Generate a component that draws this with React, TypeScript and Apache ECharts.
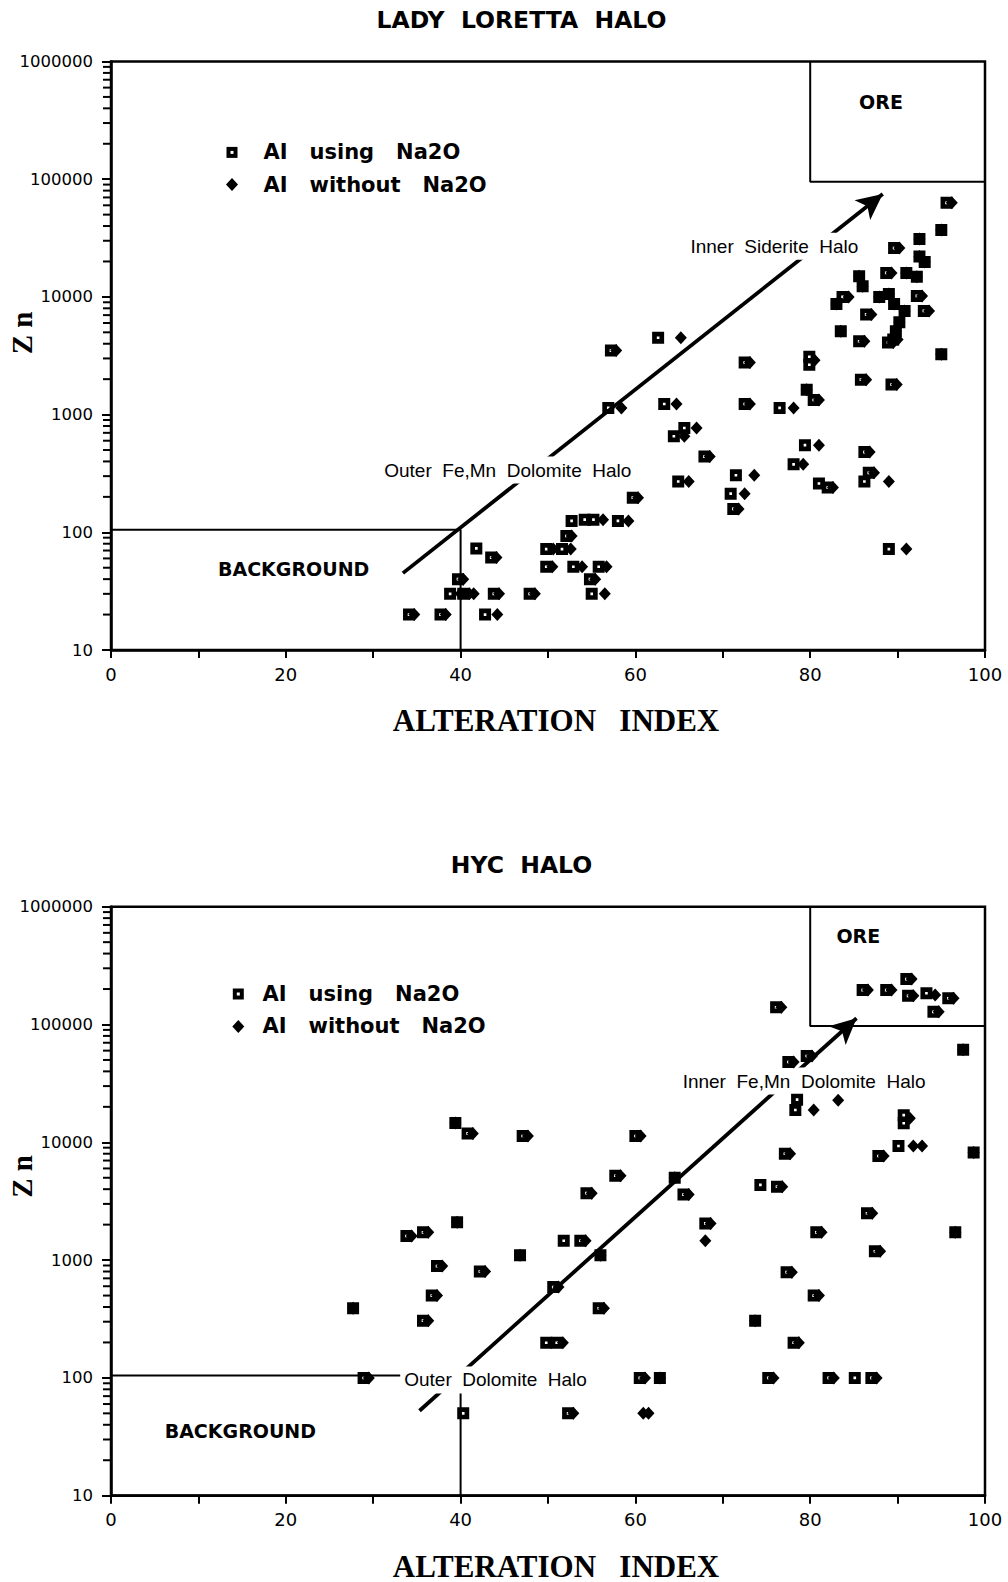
import { useEffect, useRef } from "react";
import * as echarts from "echarts";

// Series names shown in the keys
const USING = "AI   using   Na2O";
const WITHOUT = "AI   without   Na2O";

// Lady Loretta halo: [alteration index, Zn (ppm)]
const LL_USING_NA2O: [number, number][] = [
  [34.1, 20], [37.7, 20], [39.7, 40], [38.8, 30], [40.3, 30], [41.8, 73], [43.5, 61],
  [42.8, 20], [43.8, 30], [47.9, 30], [49.8, 72], [51.6, 72], [49.8, 51], [52.9, 51],
  [55.8, 51], [52.1, 93], [52.7, 125], [54.2, 128], [55.2, 128], [58.0, 125], [54.8, 40],
  [55.0, 30], [59.7, 197], [56.9, 1140], [57.2, 3500], [62.6, 4500], [63.3, 1230],
  [65.6, 770], [64.4, 655], [67.9, 440], [64.9, 270], [72.5, 1230], [72.5, 2770],
  [71.5, 305], [70.9, 213], [71.2, 158], [76.5, 1140], [79.6, 1630], [80.4, 1330],
  [79.9, 3100], [79.9, 2650], [79.4, 550], [78.1, 378], [81.0, 260], [82.0, 240],
  [86.2, 480], [86.7, 320], [86.2, 270], [89.0, 72], [85.8, 1980], [89.3, 1800],
  [95.0, 3250], [95.6, 63000], [95.0, 37000], [92.5, 31000], [89.6, 26000], [92.5, 22000],
  [93.1, 19800], [85.6, 15000], [86.0, 12300], [88.7, 16000], [91.0, 16000], [92.2, 14800],
  [83.7, 10000], [83.0, 8700], [87.9, 10000], [89.0, 10600], [89.6, 8700], [90.8, 7600],
  [92.2, 10200], [93.0, 7600], [86.4, 7100], [90.2, 6100], [89.8, 5100], [89.5, 4350],
  [83.5, 5100], [85.6, 4200], [88.9, 4100],
];
const LL_WITHOUT_NA2O: [number, number][] = [
  [34.7, 20], [38.3, 20], [40.3, 40], [40.0, 30], [41.0, 30], [41.5, 30], [44.1, 61],
  [44.2, 20], [44.4, 30], [48.5, 30], [50.6, 72], [52.6, 72], [50.5, 51], [53.9, 51],
  [56.7, 51], [52.7, 93], [56.3, 128], [59.2, 125], [55.4, 40], [56.5, 30], [60.3, 197],
  [58.4, 1140], [57.8, 3500], [65.2, 4500], [64.7, 1230], [67.0, 770], [65.6, 655],
  [68.5, 440], [66.1, 270], [73.1, 1230], [73.1, 2770], [73.6, 305], [72.5, 213],
  [71.8, 158], [78.1, 1140], [79.6, 1630], [81.0, 1330], [80.5, 2900], [81.0, 550],
  [79.2, 378], [82.6, 240], [86.8, 480], [87.3, 320], [89.0, 270], [91.0, 72], [86.4, 1980],
  [89.9, 1800], [95.0, 3250], [96.2, 63000], [95.0, 37000], [92.5, 31000], [90.2, 26000],
  [92.5, 22000], [93.1, 19800], [85.6, 15000], [86.0, 12300], [89.3, 16000], [91.0, 16000],
  [92.2, 14800], [84.4, 10000], [83.0, 8700], [87.9, 10000], [89.0, 10600], [89.6, 8700],
  [90.8, 7600], [92.8, 10200], [93.6, 7600], [87.0, 7100], [90.2, 6100], [89.8, 5100],
  [90.0, 4350], [83.5, 5100], [86.2, 4200], [89.5, 4100],
];

// HYC halo: [alteration index, Zn (ppm)]
const HYC_USING_NA2O: [number, number][] = [
  [86.0, 196000], [88.7, 196000], [91.0, 243000], [91.2, 175000], [93.3, 184000],
  [95.8, 167000], [94.1, 128000], [76.1, 140000], [77.5, 48000], [79.6, 54000],
  [97.5, 61000], [78.5, 23000], [78.3, 18800], [90.7, 17000], [90.7, 14500], [90.1, 9300],
  [87.8, 7650], [98.7, 8200], [60.0, 11300], [77.1, 8000], [57.7, 5200], [64.5, 5000],
  [54.4, 3700], [65.5, 3600], [74.3, 4350], [76.2, 4200], [51.8, 1460], [53.7, 1460],
  [56.0, 1100], [68.0, 2050], [86.5, 2500], [80.7, 1720], [87.4, 1190], [96.6, 1720],
  [77.3, 790], [80.4, 500], [73.7, 306], [78.1, 199], [50.6, 590], [55.8, 390], [49.8, 199],
  [51.0, 199], [60.5, 100], [62.8, 100], [75.2, 100], [82.1, 100], [85.1, 100], [87.0, 100],
  [52.3, 50], [39.4, 14600], [40.8, 11900], [47.1, 11300], [39.6, 2100], [33.8, 1600],
  [35.7, 1720], [46.8, 1100], [37.3, 890], [42.2, 800], [36.7, 500], [27.7, 390],
  [35.7, 306], [28.9, 100], [40.3, 50],
];
const HYC_WITHOUT_NA2O: [number, number][] = [
  [86.6, 196000], [89.3, 196000], [91.6, 243000], [91.8, 175000], [94.3, 178000],
  [96.4, 167000], [94.7, 128000], [76.7, 140000], [78.1, 48000], [80.2, 54000],
  [97.5, 61000], [80.4, 18800], [83.2, 22800], [91.4, 16000], [91.8, 9300], [92.8, 9300],
  [88.4, 7650], [98.7, 8200], [60.6, 11300], [77.7, 8000], [58.3, 5200], [64.5, 5000],
  [55.0, 3700], [66.1, 3600], [76.8, 4200], [54.3, 1460], [56.0, 1100], [68.6, 2050],
  [68.0, 1460], [87.1, 2500], [81.3, 1720], [88.0, 1190], [96.6, 1720], [77.9, 790],
  [81.0, 500], [73.7, 306], [78.7, 199], [51.2, 590], [56.4, 390], [51.7, 199], [61.1, 100],
  [62.8, 100], [75.8, 100], [82.7, 100], [87.6, 100], [52.9, 50], [60.9, 50], [61.5, 50],
  [39.4, 14600], [41.4, 11900], [47.7, 11300], [39.6, 2100], [34.4, 1600], [36.3, 1720],
  [46.8, 1100], [37.9, 890], [42.8, 800], [37.3, 500], [27.7, 390], [36.3, 306], [29.5, 100],
];

// Field outlines and trend arrows, in [alteration index, Zn] space
const LL_ORE_FIELD: [number, number][] = [[80, 1000000], [80, 95000], [100, 95000]];
const LL_BACKGROUND_FIELD: [number, number][] = [[0, 105], [40, 105], [40, 10]];
const LL_TREND: [number, number][] = [[33.4, 45], [88.3, 74800]];
const HYC_ORE_FIELD: [number, number][] = [[80, 1000000], [80, 97000], [100, 97000]];
const HYC_BACKGROUND_FIELD: [number, number][] = [[0, 105], [40, 105], [40, 10]];
const HYC_TREND: [number, number][] = [[35.3, 52.6], [85.3, 113000]];

// Annotation texts and where they sit in data space
const LL_FIELD_NAMES = ["ORE", "BACKGROUND"];
const LL_FIELD_ANCHORS: [number, number][] = [[88.1, 453000], [20.9, 48.7]];
const LL_HALO_NAMES = ["Outer  Fe,Mn  Dolomite  Halo", "Inner  Siderite  Halo"];
const LL_HALO_ANCHORS: [number, number][] = [[45.4, 338], [75.9, 27000]];
const HYC_FIELD_NAMES = ["ORE", "BACKGROUND"];
const HYC_FIELD_ANCHORS: [number, number][] = [[85.5, 561000], [14.8, 35.7]];
const HYC_HALO_NAMES = ["Outer  Dolomite  Halo", "Inner  Fe,Mn  Dolomite  Halo"];
const HYC_HALO_ANCHORS: [number, number][] = [[44.0, 96], [79.3, 33100]];

// Log minor tick values (2..9 in each decade)
const Y_MINOR_TICKS: number[] = [
  20, 30, 40, 50, 60, 70, 80, 90,
  200, 300, 400, 500, 600, 700, 800, 900,
  2000, 3000, 4000, 5000, 6000, 7000, 8000, 9000,
  20000, 30000, 40000, 50000, 60000, 70000, 80000, 90000,
  200000, 300000, 400000, 500000, 600000, 700000, 800000, 900000,
];

const SANS = "'Liberation Sans', Arial, sans-serif";
const WIDE_BOLD = "'DejaVu Sans', sans-serif";
const SERIF = "'Liberation Serif', 'Times New Roman', serif";

const SQUARE_DOT = "path://M0,0H10V10H0Z M3.9,3.9V6.1H6.1V3.9Z";
const DIAMOND = "path://M5,0L10,6L5,12L0,6Z";

interface Panel {
  title: string;
  titleY: number;
  gridTop: number;
  gridHeight: number;
  znY: number;
  xNameY: number;
  using: [number, number][];
  without: [number, number][];
  ore: [number, number][];
  background: [number, number][];
  trend: [number, number][];
  fieldNames: string[];
  fieldAnchors: [number, number][];
  haloNames: string[];
  haloAnchors: [number, number][];
  key: { iconX: number; textX: number; rows: [number, number] };
}

const PANELS: Panel[] = [
  {
    title: "LADY  LORETTA  HALO",
    titleY: 19.5,
    gridTop: 61.5,
    gridHeight: 588.5,
    znY: 333,
    xNameY: 720,
    using: LL_USING_NA2O,
    without: LL_WITHOUT_NA2O,
    ore: LL_ORE_FIELD,
    background: LL_BACKGROUND_FIELD,
    trend: LL_TREND,
    fieldNames: LL_FIELD_NAMES,
    fieldAnchors: LL_FIELD_ANCHORS,
    haloNames: LL_HALO_NAMES,
    haloAnchors: LL_HALO_ANCHORS,
    key: { iconX: 232, textX: 263.5, rows: [152.4, 184.6] },
  },
  {
    title: "HYC  HALO",
    titleY: 865,
    gridTop: 906.7,
    gridHeight: 589,
    znY: 1176.5,
    xNameY: 1566,
    using: HYC_USING_NA2O,
    without: HYC_WITHOUT_NA2O,
    ore: HYC_ORE_FIELD,
    background: HYC_BACKGROUND_FIELD,
    trend: HYC_TREND,
    fieldNames: HYC_FIELD_NAMES,
    fieldAnchors: HYC_FIELD_ANCHORS,
    haloNames: HYC_HALO_NAMES,
    haloAnchors: HYC_HALO_ANCHORS,
    key: { iconX: 238.3, textX: 262.5, rows: [994, 1026.4] },
  },
];

const GRID_LEFT = 111;
const GRID_WIDTH = 874;

function panelSeries(p: Panel, i: number): any[] {
  const axes = { xAxisIndex: i, yAxisIndex: i };
  const plain = { color: "#000", width: 2, type: "solid" };
  const solid = { color: "#000", opacity: 1 };
  const annotations = [
    ...p.fieldNames.map((name, k) => ({
      value: p.fieldAnchors[k],
      label: {
        formatter: name,
        fontFamily: WIDE_BOLD,
        fontWeight: "bold",
        fontSize: 19,
      },
    })),
    ...p.haloNames.map((name, k) => ({
      value: p.haloAnchors[k],
      label: {
        formatter: name,
        fontFamily: SANS,
        fontSize: 19,
        backgroundColor: "#fff",
        padding: [4, 4],
      },
    })),
  ];
  return [
    {
      type: "line",
      ...axes,
      data: p.background,
      symbol: "none",
      silent: true,
      lineStyle: plain,
      z: 1,
      markLine: {
        silent: true,
        z: 2,
        symbol: ["none", "arrow"],
        symbolSize: [19, 26],
        label: { show: false },
        lineStyle: { color: "#000", width: 3.8, type: "solid", opacity: 1 },
        emphasis: { disabled: true },
        data: [[{ coord: p.trend[0] }, { coord: p.trend[1] }]],
      },
    },
    {
      type: "line",
      ...axes,
      data: p.ore,
      symbol: "none",
      silent: true,
      lineStyle: plain,
      z: 1,
    },
    {
      type: "scatter",
      ...axes,
      data: annotations,
      symbolSize: 0,
      silent: true,
      clip: false,
      z: 3,
      itemStyle: solid,
      label: { show: true, position: "inside", color: "#000" },
    },
    {
      type: "scatter",
      name: USING,
      ...axes,
      data: p.using,
      symbol: SQUARE_DOT,
      symbolSize: 12,
      itemStyle: solid,
      z: 4,
    },
    {
      type: "scatter",
      name: WITHOUT,
      ...axes,
      data: p.without,
      symbol: DIAMOND,
      symbolSize: [12, 13],
      itemStyle: solid,
      z: 5,
    },
    {
      // minor log ticks on the Zn axis
      type: "scatter",
      ...axes,
      data: Y_MINOR_TICKS.map((v) => [0, v]),
      symbol: "rect",
      symbolSize: [7, 2],
      symbolOffset: [-4.5, 0],
      itemStyle: solid,
      silent: true,
      clip: false,
      z: 6,
    },
  ];
}

// Key: open square with dot, filled diamond, and the two names
function keyGraphics(p: Panel): any[] {
  const [r1, r2] = p.key.rows;
  const cx = p.key.iconX;
  const text = (t: string, y: number) => ({
    type: "text",
    x: p.key.textX,
    y,
    silent: true,
    style: {
      text: t,
      align: "left",
      verticalAlign: "middle",
      fontFamily: WIDE_BOLD,
      fontWeight: "bold",
      fontSize: 21,
      fill: "#000",
    },
  });
  return [
    { type: "rect", silent: true, shape: { x: cx - 5.5, y: r1 - 5.5, width: 11, height: 11 }, style: { fill: "#000" } },
    { type: "rect", silent: true, shape: { x: cx - 1.5, y: r1 - 1.5, width: 3, height: 3 }, style: { fill: "#fff" } },
    text(USING, r1),
    {
      type: "polygon",
      silent: true,
      shape: { points: [[cx, r2 - 6.5], [cx + 6, r2], [cx, r2 + 6.5], [cx - 6, r2]] },
      style: { fill: "#000" },
    },
    text(WITHOUT, r2),
  ];
}

function buildOption(): any {
  return {
    animation: false,
    backgroundColor: "#fff",
    grid: PANELS.map((p) => ({
      left: GRID_LEFT,
      top: p.gridTop,
      width: GRID_WIDTH,
      height: p.gridHeight,
      show: true,
      borderColor: "#000",
      borderWidth: 2.5,
    })),
    xAxis: PANELS.map((_, i) => ({
      gridIndex: i,
      type: "value",
      min: 0,
      max: 100,
      interval: 20,
      axisLine: { show: true, onZero: false, lineStyle: { color: "#000", width: 2.5 } },
      axisTick: { show: true, length: 8, lineStyle: { color: "#000", width: 2 } },
      minorTick: { show: true, splitNumber: 2, length: 8, lineStyle: { color: "#000", width: 2 } },
      axisLabel: { margin: 15, color: "#000", fontFamily: "'DejaVu Sans', sans-serif", fontSize: 18 },
      splitLine: { show: false },
    })),
    yAxis: PANELS.map((_, i) => ({
      gridIndex: i,
      type: "log",
      logBase: 10,
      min: 10,
      max: 1000000,
      axisLine: { show: true, onZero: false, lineStyle: { color: "#000", width: 2.5 } },
      axisTick: { show: true, length: 9, lineStyle: { color: "#000", width: 2 } },
      axisLabel: {
        margin: 18,
        color: "#000",
        fontFamily: "'DejaVu Sans', sans-serif",
        fontSize: 16.5,
        formatter: (v: number) => String(Math.round(v)),
      },
      splitLine: { show: false },
    })),
    graphic: PANELS.flatMap((p) => [
      {
        type: "text",
        x: 521.5,
        y: p.titleY,
        silent: true,
        style: {
          text: p.title,
          align: "center",
          verticalAlign: "middle",
          fontFamily: WIDE_BOLD,
          fontWeight: "bold",
          fontSize: 23.5,
          fill: "#000",
        },
      },
      {
        type: "text",
        x: 556,
        y: p.xNameY,
        silent: true,
        style: {
          text: "ALTERATION   INDEX",
          align: "center",
          verticalAlign: "middle",
          fontFamily: SERIF,
          fontWeight: "bold",
          fontSize: 31,
          fill: "#000",
        },
      },
      {
        type: "text",
        x: 22,
        y: p.znY,
        rotation: Math.PI / 2,
        silent: true,
        style: {
          text: "Z n",
          align: "center",
          verticalAlign: "middle",
          fontFamily: SERIF,
          fontWeight: "bold",
          fontSize: 29,
          fill: "#000",
        },
      },
      ...keyGraphics(p),
    ]),
    series: PANELS.flatMap((p, i) => panelSeries(p, i)),
  };
}

export default function App() {
  const ref = useRef<HTMLDivElement>(null);
  useEffect(() => {
    if (!ref.current) return;
    const chart = echarts.init(ref.current, undefined, { renderer: "svg" });
    chart.setOption(buildOption());
    return () => chart.dispose();
  }, []);
  return (
    <div
      ref={ref}
      style={{ position: "absolute", left: 0, top: 0, width: 1008, height: 1582, background: "#fff" }}
    />
  );
}
